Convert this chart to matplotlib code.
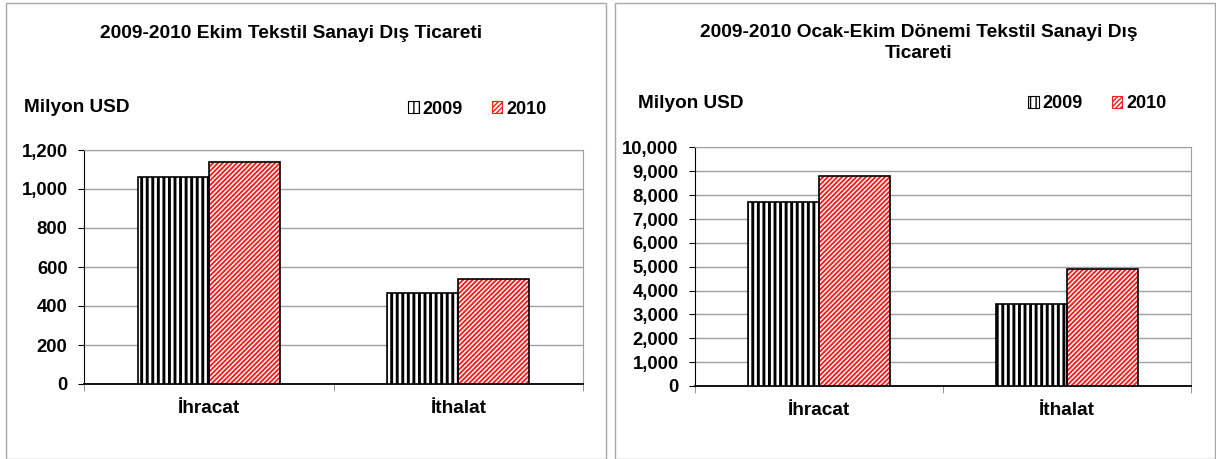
import matplotlib as mpl
import matplotlib.pyplot as plt
from matplotlib.patches import Patch, Rectangle
from matplotlib.ticker import FuncFormatter

categories = ["İhracat", "İthalat"]
years = ["2009", "2010"]

# Ekim (October) values, million USD
ekim_2009 = [1062, 469]
ekim_2010 = [1137, 540]

# Ocak-Ekim (Jan-Oct) values, million USD
ocak_ekim_2009 = [7730, 3445]
ocak_ekim_2010 = [8815, 4910]

left_title = "2009-2010 Ekim Tekstil Sanayi Dış Ticareti"
right_title = "2009-2010 Ocak-Ekim Dönemi Tekstil Sanayi Dış\nTicareti"

plt.rcParams["font.family"] = ["Liberation Sans", "DejaVu Sans"]
plt.rcParams["font.weight"] = "bold"

W, H = 1216, 459
fig = plt.figure(figsize=(W / 100, H / 100), dpi=100)

BAR_W = 0.285
GRID = "#a0a0a0"
RED = "#ff1a1a"
HATCH_09 = "|||"
HATCH_10 = "///////"


def hatched_bars(ax, x, vals, hatch, color, hlw):
    with mpl.rc_context({"hatch.linewidth": hlw}):
        bars = ax.bar(x, vals, BAR_W, color="white", edgecolor=color,
                      hatch=hatch, linewidth=0, zorder=3)
    for b in bars:
        if hasattr(b, "set_hatch_linewidth"):
            b.set_hatch_linewidth(hlw)
    ax.bar(x, vals, BAR_W, fill=False, edgecolor="black", linewidth=1.2, zorder=4)


def legend_handle(hatch, color, hlw):
    with mpl.rc_context({"hatch.linewidth": hlw}):
        p = Patch(facecolor="white", edgecolor=color, hatch=hatch, linewidth=0.8)
    if hasattr(p, "set_hatch_linewidth"):
        p.set_hatch_linewidth(hlw)
    return p


def panel(rect_px, ax_px, v09, v10, ymax, ystep, title, title_xy, ylab_px, leg_px):
    # panel border
    x0, x1 = rect_px
    fig.patches.append(Rectangle((x0 / W, 0), (x1 - x0) / W, 1 - 2.5 / H,
                                 transform=fig.transFigure, fill=False,
                                 edgecolor="#a8a8a8", linewidth=1.0))
    l, r, t, b = ax_px
    ax = fig.add_axes([l / W, 1 - b / H, (r - l) / W, (b - t) / H])
    x = list(range(len(categories)))
    xl = [i - BAR_W / 2 for i in x]
    xr = [i + BAR_W / 2 for i in x]
    hatched_bars(ax, xl, v09, HATCH_09, "black", 2.1)
    hatched_bars(ax, xr, v10, HATCH_10, RED, 1.35)

    ax.set_xlim(-0.5, len(categories) - 0.5)
    ax.set_ylim(0, ymax)
    ax.set_yticks(range(0, ymax + 1, ystep))
    ax.yaxis.set_major_formatter(FuncFormatter(lambda v, p: f"{int(v):,}"))
    ax.grid(axis="y", color=GRID, linewidth=1.0, zorder=0)
    ax.set_axisbelow(True)
    ax.set_xticks(x)
    ax.set_xticklabels(categories, fontsize=13.8, fontweight="bold")
    ax.set_xticks([-0.5, 0.5, 1.5], minor=True)
    ax.tick_params(axis="x", which="major", length=0, pad=11.5)
    ax.tick_params(axis="x", which="minor", length=5, direction="out", color="#808080")
    ax.tick_params(axis="y", length=4.3, direction="out", labelsize=13.3, pad=7.5)
    for lab in ax.get_yticklabels():
        lab.set_fontweight("bold")
    ax.spines["left"].set_color("black")
    ax.spines["bottom"].set_color("black")
    ax.spines["bottom"].set_linewidth(1.3)
    ax.spines["top"].set_color(GRID)
    ax.spines["right"].set_color(GRID)

    fig.text(title_xy[0] / W, 1 - title_xy[1] / H, title, ha="center", va="center",
             fontsize=13.8, fontweight="bold", linespacing=1.25)
    fig.text(ylab_px[0] / W, 1 - ylab_px[1] / H, "Milyon USD", ha="left",
             va="center", fontsize=13.7, fontweight="bold")
    handles = [legend_handle(HATCH_09, "black", 1.4), legend_handle(HATCH_10, RED, 1.0)]
    fig.legend(handles, years, loc="center left",
               bbox_to_anchor=(leg_px[0] / W, 1 - leg_px[1] / H),
               ncol=2, frameon=False, borderpad=0, borderaxespad=0,
               handlelength=0.6, handleheight=0.6, handletextpad=0.2,
               columnspacing=1.6, prop={"size": 13, "weight": "bold"})
    return ax


panel((6, 606), (84, 583, 150, 384), ekim_2009, ekim_2010, 1200, 200,
      left_title, (291, 33), (24, 107), (408, 109))
panel((615, 1215), (695, 1191, 147.5, 386), ocak_ekim_2009, ocak_ekim_2010,
      10000, 1000, right_title, (919, 43), (638, 103), (1028, 104))

fig.savefig("out.png", dpi=100)
